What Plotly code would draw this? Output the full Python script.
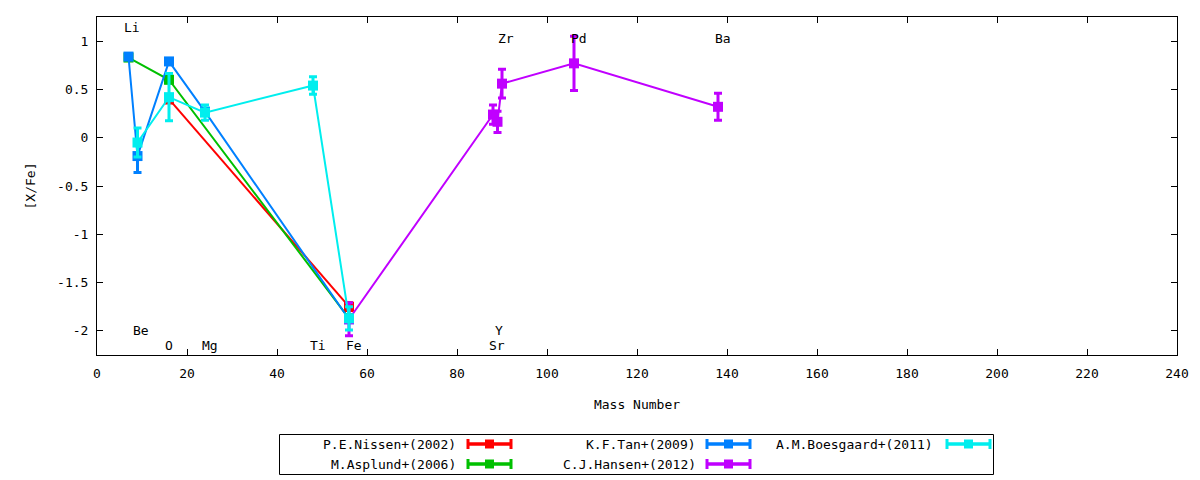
import plotly.graph_objects as go

# ---------------- data ----------------
nissen_mass = [16, 56]
nissen_val = [0.40, -1.75]
nissen_err = [0.04, 0.04]

asplund_mass = [7, 16, 56]
asplund_val = [0.83, 0.60, -1.87]
asplund_err = [0.03, 0.03, 0.03]

tan_mass = [7, 9, 16, 24, 56]
tan_val = [0.84, -0.19, 0.79, 0.27, -1.88]
tan_err = [0.03, 0.17, 0.03, 0.03, 0.03]

hansen_mass = [56, 88, 89, 90, 106, 138]
hansen_val = [-1.88, 0.24, 0.165, 0.56, 0.77, 0.32]
hansen_err = [0.17, 0.10, 0.11, 0.15, 0.28, 0.14]

boes_mass = [9, 16, 24, 48, 56]
boes_val = [-0.05, 0.42, 0.26, 0.54, -1.87]
boes_err = [0.15, 0.245, 0.08, 0.09, 0.12]

elem_labels = ["Li", "Be", "O", "Mg", "Ti", "Fe", "Y", "Sr", "Zr", "Pd", "Ba"]
label_x = [7.8, 9.8, 16.0, 25.1, 49.1, 57.1, 89.3, 88.9, 90.9, 107.1, 139.1]
label_y = [1.145, -2.0, -2.155, -2.155, -2.155, -2.155, -2.0, -2.155, 1.03, 1.03, 1.03]

x_ticks = list(range(0, 241, 20))
y_tickvals = [1, 0.5, 0, -0.5, -1, -1.5, -2]
y_ticktext = ["1", "0.5", "0", "-0.5", "-1", "-1.5", "-2"]

series = [
    ("P.E.Nissen+(2002)", nissen_mass, nissen_val, nissen_err, "#ff0000"),
    ("M.Asplund+(2006)", asplund_mass, asplund_val, asplund_err, "#00c000"),
    ("K.F.Tan+(2009)", tan_mass, tan_val, tan_err, "#0080ff"),
    ("C.J.Hansen+(2012)", hansen_mass, hansen_val, hansen_err, "#c000ff"),
    ("A.M.Boesgaard+(2011)", boes_mass, boes_val, boes_err, "#00eeee"),
]

FONT = "DejaVu Sans Mono"
fig = go.Figure()

for name, mx, my, me, col in series:
    fig.add_trace(go.Scatter(
        x=mx, y=my, mode="lines+markers", name=name, showlegend=False,
        line=dict(color=col, width=2),
        marker=dict(symbol="square", size=10, color=col),
        error_y=dict(type="data", array=me, visible=True, color=col,
                     thickness=3, width=4),
        xaxis="x", yaxis="y",
    ))

# ---------------- custom gnuplot-like key ----------------
key_cols = [(458, 468), (698, 707), (935, 947)]
key_rows = [444, 464]
key_slots = [(0, 0), (0, 1), (1, 0), (1, 1), (2, 0)]
sample_len = 43

for (name, mx, my, me, col), (ci, ri) in zip(series, key_slots):
    tx, sx = key_cols[ci]
    yy = key_rows[ri]
    fig.add_trace(go.Scatter(
        x=[sx, sx + sample_len], y=[yy, yy], mode="lines", showlegend=False,
        line=dict(color=col, width=3), xaxis="x2", yaxis="y2", hoverinfo="skip",
    ))
    fig.add_trace(go.Scatter(
        x=[sx + sample_len / 2], y=[yy], mode="markers", showlegend=False,
        marker=dict(symbol="square", size=9, color=col),
        error_x=dict(type="constant", value=sample_len / 2, color=col,
                     thickness=3, width=5),
        xaxis="x2", yaxis="y2", hoverinfo="skip",
    ))
    fig.add_annotation(x=tx, y=yy, xref="x2", yref="y2", text=name,
                       showarrow=False, xanchor="right", yanchor="middle",
                       font=dict(family=FONT, size=13, color="black"))

fig.add_shape(type="rect", xref="x2", yref="y2", x0=279.5, x1=993.5,
              y0=434.5, y1=474.5, line=dict(color="black", width=1))

for t, lx, ly in zip(elem_labels, label_x, label_y):
    fig.add_annotation(x=lx, y=ly, xref="x", yref="y", text=t, showarrow=False,
                       xanchor="center", yanchor="middle",
                       font=dict(family=FONT, size=13, color="black"))

PAPER_BOTTOM = 477
PAPER_TOP = 17
ph = PAPER_BOTTOM - PAPER_TOP
main_d0 = (PAPER_BOTTOM - 355) / ph
key_d1 = (PAPER_BOTTOM - 430) / ph

fig.update_layout(
    width=1200, height=480,
    margin=dict(l=97, r=23, t=PAPER_TOP, b=480 - PAPER_BOTTOM),
    paper_bgcolor="white", plot_bgcolor="white",
    font=dict(family=FONT, size=13, color="black"),
    showlegend=False,
    xaxis=dict(range=[0, 240], tickvals=x_ticks, ticks="inside", ticklen=6,
               tickcolor="black", showline=True, linecolor="black", linewidth=1,
               mirror="allticks", showgrid=False, zeroline=False,
               ticklabelstandoff=6,
               title=dict(text="Mass Number", standoff=20,
                          font=dict(family=FONT, size=13)),
               anchor="y", domain=[0, 1]),
    yaxis=dict(range=[-2.25, 1.25], tickvals=y_tickvals, ticktext=y_ticktext,
               ticks="inside", ticklen=6, tickcolor="black", showline=True,
               linecolor="black", linewidth=1, mirror="allticks",
               showgrid=False, zeroline=False, ticklabelstandoff=5,
               title=dict(text="[X/Fe]", standoff=18,
                          font=dict(family=FONT, size=13)),
               domain=[main_d0, 1], anchor="x"),
    xaxis2=dict(range=[97, 1177], domain=[0, 1], visible=False, anchor="y2",
                fixedrange=True),
    yaxis2=dict(range=[PAPER_BOTTOM, 430], domain=[0, key_d1], visible=False,
                anchor="x2", fixedrange=True),
)

fig.write_html("out.html",
               config={"displayModeBar": False},
               post_script="document.body.style.margin='0';document.body.style.overflow='hidden';")
